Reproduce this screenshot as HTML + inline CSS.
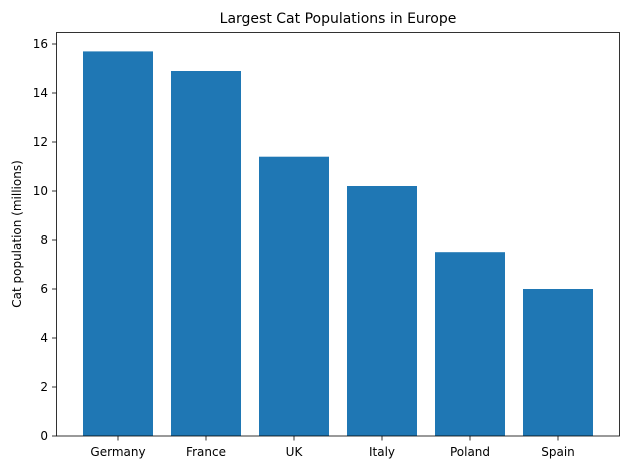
<!DOCTYPE html>
<html><head><style>body{margin:0;background:#fff}</style></head><body>
<svg width="630" height="470" xmlns="http://www.w3.org/2000/svg" font-family="'DejaVu Sans', 'Liberation Sans', sans-serif">
<rect width="630" height="470" fill="#fff"/>
<g fill="#1f77b4">
<rect x="83" y="51.4" width="70" height="384.6"/>
<rect x="171" y="71" width="70" height="365"/>
<rect x="259" y="156.7" width="70" height="279.3"/>
<rect x="347" y="186" width="70" height="250"/>
<rect x="435" y="252.2" width="70" height="183.8"/>
<rect x="523" y="289" width="70" height="147"/>
</g>
<rect x="56.5" y="32.5" width="563" height="403.5" fill="none" stroke="#000" stroke-width="0.8"/>
<g stroke="#000" stroke-width="0.8">
<line x1="52" x2="56.5" y1="436" y2="436"/><line x1="52" x2="56.5" y1="387" y2="387"/><line x1="52" x2="56.5" y1="338" y2="338"/><line x1="52" x2="56.5" y1="289" y2="289"/><line x1="52" x2="56.5" y1="240" y2="240"/><line x1="52" x2="56.5" y1="191" y2="191"/><line x1="52" x2="56.5" y1="142" y2="142"/><line x1="52" x2="56.5" y1="93" y2="93"/><line x1="52" x2="56.5" y1="44" y2="44"/>
<line x1="118" x2="118" y1="436" y2="440.5"/><line x1="206" x2="206" y1="436" y2="440.5"/><line x1="294" x2="294" y1="436" y2="440.5"/><line x1="382" x2="382" y1="436" y2="440.5"/><line x1="470" x2="470" y1="436" y2="440.5"/><line x1="558" x2="558" y1="436" y2="440.5"/>
</g>
<g font-size="12" text-anchor="end" fill="#000">
<text x="48" y="440">0</text><text x="48" y="391">2</text><text x="48" y="342">4</text><text x="48" y="293">6</text><text x="48" y="244">8</text><text x="48" y="195">10</text><text x="48" y="146">12</text><text x="48" y="97">14</text><text x="48" y="48">16</text>
</g>
<g font-size="12" text-anchor="middle" fill="#000">
<text x="118" y="456">Germany</text><text x="206" y="456">France</text><text x="294" y="456">UK</text><text x="382" y="456">Italy</text><text x="470" y="456">Poland</text><text x="558" y="456">Spain</text>
</g>
<text x="338" y="23" font-size="14" text-anchor="middle">Largest Cat Populations in Europe</text>
<text transform="translate(21,234) rotate(-90)" font-size="12" text-anchor="middle">Cat population (millions)</text>
</svg>
</body></html>
